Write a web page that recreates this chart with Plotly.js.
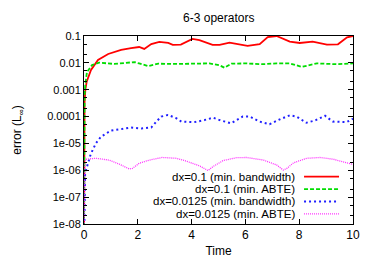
<!DOCTYPE html>
<html>
<head>
<meta charset="utf-8">
<script src="https://cdn.plot.ly/plotly-3.0.1.min.js"></script>
<style>html,body{margin:0;padding:0;background:#fff;}#chart{width:374px;height:261px;}</style>
</head>
<body>
<div id="chart"></div>
<script>
// Series labels
const seriesNames = [
  "dx=0.1 (min. bandwidth)",
  "dx=0.1 (min. ABTE)",
  "dx=0.0125 (min. bandwidth)",
  "dx=0.0125 (min. ABTE)"
];

// dx=0.1 (min. bandwidth)
const tRed = [0, 0.02, 0.05, 0.1, 0.26, 0.52, 0.9, 1.38, 1.75, 2.05, 2.24, 2.5, 2.8, 3.13, 3.3, 3.6, 4.03, 4.29, 4.78, 5.04, 5.41, 5.67, 6.08, 6.53, 6.83, 7.16, 7.65, 8.02, 8.5, 9.03, 9.44, 9.78, 10];
const eRed = [1e-9, 3.2e-4, 1.0e-3, 2.0e-3, 5.4e-3, 1.29e-2, 2.14e-2, 3.02e-2, 3.55e-2, 3.89e-2, 3.31e-2, 5.01e-2, 6.03e-2, 5.5e-2, 4.68e-2, 4.79e-2, 7.76e-2, 7.08e-2, 4.68e-2, 4.68e-2, 5.62e-2, 5.01e-2, 4.27e-2, 5.01e-2, 9.12e-2, 0.1, 6.17e-2, 5.5e-2, 6.17e-2, 4.79e-2, 4.9e-2, 8.91e-2, 0.1];

// dx=0.1 (min. ABTE)
const tGreen = [0, 0.02, 0.05, 0.11, 0.3, 0.45, 0.56, 1.12, 1.87, 2.05, 2.39, 2.76, 3.5, 4.66, 5.04, 5.22, 5.48, 6.04, 6.64, 7.16, 7.65, 8.1, 8.66, 9.4, 10];
const eGreen = [1e-9, 6.3e-4, 1.58e-3, 4.57e-3, 8.3e-3, 9.55e-3, 1.02e-2, 9.1e-3, 1.07e-2, 9.55e-3, 7.6e-3, 9.3e-3, 9.1e-3, 9.55e-3, 8.1e-3, 6.6e-3, 9.3e-3, 9.55e-3, 8.9e-3, 9.55e-3, 9.55e-3, 7.1e-3, 9.55e-3, 8.9e-3, 9.55e-3];

// dx=0.0125 (min. bandwidth)
const tBlue = [0, 0.04, 0.25, 0.44, 0.63, 1.0, 1.38, 1.75, 2.13, 2.5, 2.69, 2.87, 3.12, 3.43, 3.62, 4.1, 4.48, 4.8, 5.04, 5.47, 5.9, 6.16, 6.53, 6.9, 7.28, 7.65, 7.9, 8.27, 8.58, 8.96, 9.25, 9.76, 10];
const eBlue = [1e-9, 7.9e-7, 4.0e-6, 1.0e-5, 1.78e-5, 3.0e-5, 3.4e-5, 3.9e-5, 3.6e-5, 3.9e-5, 6.5e-5, 1.0e-4, 1.15e-4, 8.7e-5, 6.5e-5, 6.2e-5, 7.4e-5, 9.1e-5, 7.4e-5, 5.6e-5, 1.0e-4, 1.0e-4, 6.5e-5, 5.2e-5, 7.9e-5, 1.12e-4, 1.0e-4, 5.9e-5, 7.1e-5, 1.07e-4, 6.5e-5, 6.2e-5, 8.3e-5];

// dx=0.0125 (min. ABTE)
const tMag = [0, 0.01, 0.03, 0.06, 0.44, 0.93, 1.31, 1.68, 1.8, 2.05, 2.43, 2.91, 3.43, 3.8, 4.3, 4.61, 4.8, 5.17, 5.67, 6.04, 6.67, 7.16, 7.41, 7.54, 7.79, 8.28, 8.77, 9.28, 9.78, 10];
const eMag = [1e-9, 3.2e-7, 1.78e-6, 2.57e-6, 2.8e-6, 2.4e-6, 1.7e-6, 1.12e-6, 1.17e-6, 1.82e-6, 2.4e-6, 3.0e-6, 2.8e-6, 2.2e-6, 1.45e-6, 9.8e-7, 1.38e-6, 2.3e-6, 2.95e-6, 3.0e-6, 2.4e-6, 1.58e-6, 1.02e-6, 1.17e-6, 1.9e-6, 2.8e-6, 3.0e-6, 2.57e-6, 1.9e-6, 1.66e-6];

// Axis ticks
const xTicks = [0, 2, 4, 6, 8, 10];
const yTickVals = [1e-8, 1e-7, 1e-6, 1e-5, 1e-4, 1e-3, 1e-2, 1e-1];
const yTickText = ["1e-08", "1e-07", "1e-06", "1e-05", "0.0001", "0.001", "0.01", "0.1"];
const yMinorVals = [2e-8, 5e-8, 2e-7, 5e-7, 2e-6, 5e-6, 2e-5, 5e-5, 2e-4, 5e-4, 2e-3, 5e-3, 2e-2, 5e-2];

const colors = ["#ff0000", "#00dd00", "#2020ff", "#ff30ff"];
const dashes = ["solid", "4px,2px", "2px,3px", "1px,1px"];
const widths = [1.8, 1.8, 2, 1.3];

const xs = [tRed, tGreen, tBlue, tMag];
const ys = [eRed, eGreen, eBlue, eMag];

const traces = xs.map((x, i) => ({
  x: x, y: ys[i], type: "scatter", mode: "lines", name: seriesNames[i],
  line: {color: colors[i], dash: dashes[i], width: widths[i]},
  showlegend: false
}));

const fam = "Liberation Sans, Arial, sans-serif";
const font = {family: fam, size: 11, color: "#000"};

// Gnuplot-style legend (text right-aligned, sample to the right)
const legY = [0.252, 0.186, 0.12, 0.054];
const annotations = seriesNames.map((n, i) => ({
  xref: "paper", yref: "paper", x: 0.788, y: legY[i], xanchor: "right", yanchor: "middle",
  text: n, showarrow: false, borderpad: 0,
  font: {family: fam, size: 11.5, color: "#000"}
}));
const shapes = seriesNames.map((n, i) => ({
  type: "line", xref: "paper", yref: "paper", x0: 0.818, x1: 0.948, y0: legY[i], y1: legY[i],
  line: {color: colors[i], dash: dashes[i], width: widths[i]}
}));

const layout = {
  width: 374, height: 261,
  margin: {l: 84, r: 21, t: 36, b: 37, pad: 0},
  paper_bgcolor: "#fff", plot_bgcolor: "#fff",
  font: font,
  title: {text: "6-3 operators", font: {family: fam, size: 12, color: "#000"}, x: 0.585, xanchor: "center", y: 0.93, yanchor: "middle"},
  xaxis: {
    range: [0, 10], tickvals: xTicks, ticks: "inside", ticklen: 5, tickcolor: "#000",
    showline: true, linecolor: "#000", linewidth: 1, mirror: "ticks", showgrid: false, zeroline: false,
    tickfont: {family: fam, size: 12, color: "#000"}, title: {text: "Time", font: {family: fam, size: 12, color: "#000"}, standoff: 5}
  },
  yaxis: {
    type: "log", range: [-8, -1], tickvals: yTickVals, ticktext: yTickText,
    ticks: "inside", ticklen: 5, tickcolor: "#000",
    showline: true, linecolor: "#000", linewidth: 1, mirror: "ticks", showgrid: false, zeroline: false,
    tickfont: font, title: {text: "error (L<sub>∞</sub>)", font: {family: fam, size: 12, color: "#000"}, standoff: 22},
    minor: {ticks: "inside", ticklen: 3, tickcolor: "#000", showgrid: false, tickvals: yMinorVals}
  },
  annotations: annotations,
  shapes: shapes
};

Plotly.newPlot("chart", traces, layout, {staticPlot: true, displayModeBar: false});
</script>
</body>
</html>
